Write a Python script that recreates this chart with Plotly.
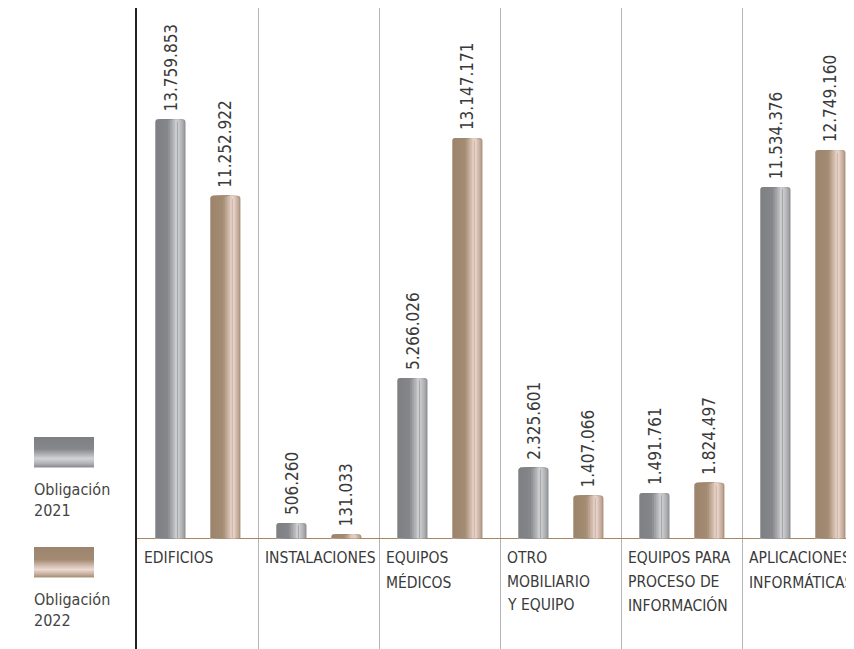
import plotly.graph_objects as go

# ---------------- data ----------------
categories = ["EDIFICIOS", "INSTALACIONES", "EQUIPOS\nMÉDICOS", "OTRO\nMOBILIARIO\nY EQUIPO",
              "EQUIPOS PARA\nPROCESO DE\nINFORMACIÓN", "APLICACIONES\nINFORMÁTICAS"]
values_2021 = [13759853, 506260, 5266026, 2325601, 1491761, 11534376]
values_2022 = [11252922, 131033, 13147171, 1407066, 1824497, 12749160]
series_names = ["Obligación<br>2021", "Obligación<br>2022"]

# ---------------- styling ----------------
FONT = "Liberation Sans Narrow, DejaVu Sans Condensed, Roboto, sans-serif"
TXT = "#3a3a3a"
BODY = 8                      # page body margin in the browser
W, H = 854, 649
PL, PT, PR, PB = 137, 8, 854, 649   # plot area in page pixels
ML, MT = PL - BODY, PT - BODY
MR = W - (PR - BODY)
MB = H - (PB - BODY)
PW = PR - PL
PH = PB - PT
GROUP_PX = 121.0
XR = [-0.5, -0.5 + PW / GROUP_PX]
PX_PER_M = 30.45
BASE_PX = 538.3
YR = [-(PB - BASE_PX) / PX_PER_M * 1e6, (BASE_PX - PT) / PX_PER_M * 1e6]

BAR_W = 30 / GROUP_PX
OFFS = [-0.223, 0.231]
PEAK = 0.72

gray_stops = [(0.0, (126, 127, 131)), (0.40, (134, 135, 139)), (0.58, (176, 177, 180)),
              (0.72, (210, 211, 213)), (0.88, (178, 179, 182)), (1.0, (140, 141, 145))]
tan_stops = [(0.0, (156, 133, 108)), (0.42, (162, 139, 114)), (0.60, (206, 182, 166)),
             (0.75, (236, 217, 210)), (0.90, (200, 176, 160)), (1.0, (166, 143, 118))]


def grad(stops, t):
    for (t0, c0), (t1, c1) in zip(stops, stops[1:]):
        if t <= t1:
            f = 0 if t1 == t0 else (t - t0) / (t1 - t0)
            return "rgb(%d,%d,%d)" % tuple(round(a + (b - a) * f) for a, b in zip(c0, c1))
    return "rgb(%d,%d,%d)" % stops[-1][1]


x_idx = list(range(len(categories)))
fig = go.Figure()
NR, NL = 6, 12


def layer(vals, left, f0, f1, color):
    fig.add_trace(go.Bar(
        x=x_idx, y=vals, width=BAR_W * (f1 - f0), offset=left + BAR_W * f0,
        marker=dict(color=color, line=dict(width=0), cornerradius=3),
        hoverinfo="skip", showlegend=False))


for vals, off, stops in [(values_2021, OFFS[0], gray_stops), (values_2022, OFFS[1], tan_stops)]:
    left = off - BAR_W / 2
    # right side of the cylinder: layers [0, e] shrinking towards the highlight
    ends = [1 - (1 - PEAK) * j / NR for j in range(NR + 1)]
    for j in range(NR):
        layer(vals, left, 0, ends[j], grad(stops, (ends[j] + ends[j + 1]) / 2))
    # left side: layers [s, PEAK] moving towards the highlight
    starts = [PEAK * k / NL for k in range(NL + 1)]
    for k in range(NL):
        layer(vals, left, starts[k], PEAK, grad(stops, (starts[k] + starts[k + 1]) / 2))
    # value labels
    fig.add_trace(go.Bar(
        x=x_idx, y=vals, width=BAR_W, offset=left,
        marker=dict(color="rgba(0,0,0,0)", line=dict(width=0)),
        texttemplate="\u00a0%{y:,.0f}", textposition="outside", textangle=-90,
        constraintext="none", cliponaxis=False,
        textfont=dict(family=FONT, size=17, color=TXT),
        hoverinfo="skip", showlegend=False))

annotations = []
for i, lab in enumerate(categories):
    for j, line in enumerate(lab.split("\n")):
        annotations.append(dict(
            x=i - 0.5, y=0, xref="x", yref="y", xanchor="left", yanchor="top",
            xshift=5, yshift=-9 - 23.3 * j, text=line, showarrow=False,
            font=dict(family=FONT, size=15.5, color=TXT)))


def px2paper_x(px):
    return (px - PL) / PW


def px2paper_y(py):
    return 1 - (py - PT) / PH


shapes = []
legend_specs = [(437, gray_stops, series_names[0], 478), (547, tan_stops, series_names[1], 588)]
for top, stops, name, ty in legend_specs:
    n = 30
    for k in range(n):
        y0 = top + 30 * k / n
        y1 = top + 30 * (k + 1) / n + 0.5
        shapes.append(dict(type="rect", xref="paper", yref="paper",
                           x0=px2paper_x(34), x1=px2paper_x(94),
                           y0=px2paper_y(y1), y1=px2paper_y(y0),
                           fillcolor=grad(stops, (k + 0.5) / n), line=dict(width=0), layer="above"))
    annotations.append(dict(x=px2paper_x(32), y=px2paper_y(ty), xref="paper", yref="paper",
                            xanchor="left", yanchor="top", align="left", text=name, showarrow=False,
                            font=dict(family=FONT, size=16, color="#444")))

fig.update_layout(
    width=W, height=H, barmode="overlay",
    separators=",.",
    margin=dict(l=ML, r=MR, t=MT, b=MB, autoexpand=False),
    paper_bgcolor="white", plot_bgcolor="white",
    xaxis=dict(range=XR, tickvals=[i + 0.5 for i in range(len(categories) - 1)],
               showticklabels=False, ticks="", showgrid=True, gridcolor="#b4b4b4", gridwidth=1,
               zeroline=False, showline=False, fixedrange=True),
    yaxis=dict(range=YR, showticklabels=False, ticks="", showgrid=False,
               zeroline=True, zerolinecolor="#a8865f", zerolinewidth=1,
               showline=True, linecolor="#222222", linewidth=1.5, fixedrange=True),
    annotations=annotations, shapes=shapes, showlegend=False,
)

fig.write_html("out.html")
